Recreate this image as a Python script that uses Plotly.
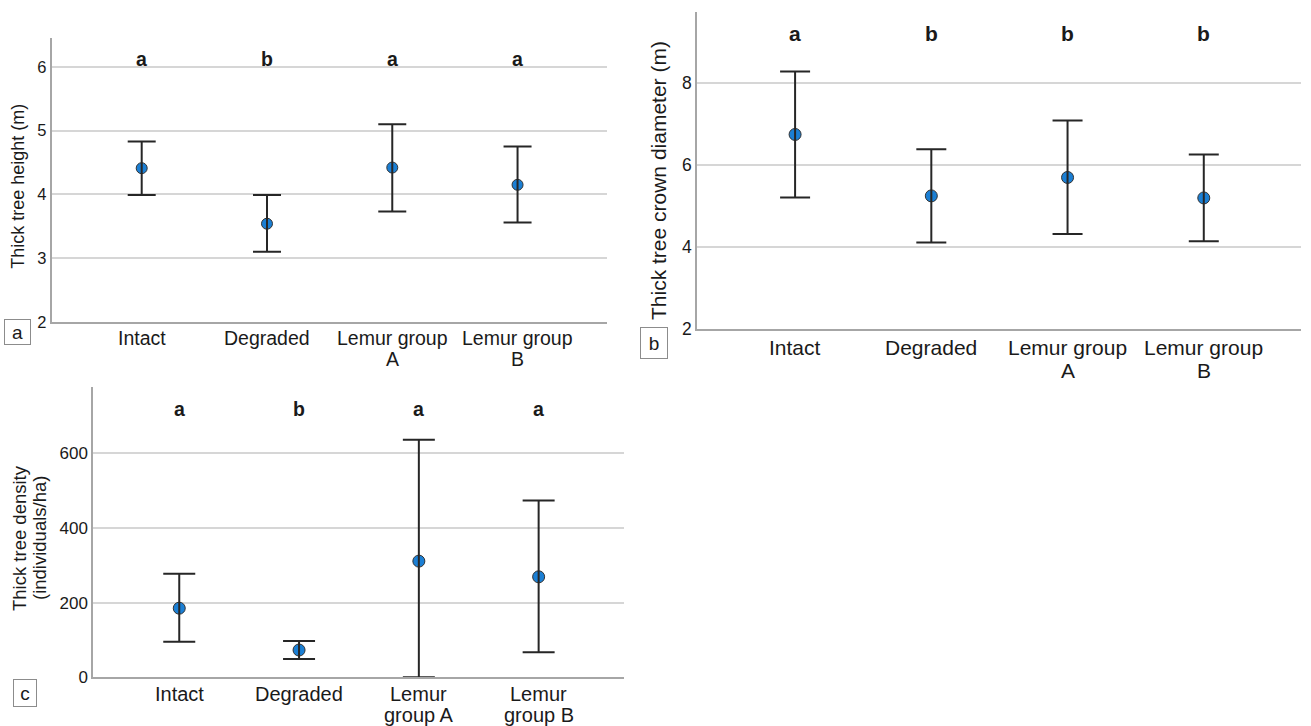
import plotly.graph_objects as go

categories_ab = ["Intact", "Degraded", "Lemur group<br>A", "Lemur group<br>B"]
categories_c = ["Intact", "Degraded", "Lemur<br>group A", "Lemur<br>group B"]

height_mean = [4.41, 3.54, 4.42, 4.15]
height_low = [3.99, 3.10, 3.73, 3.56]
height_high = [4.83, 3.99, 5.10, 4.75]
height_letters = ["a", "b", "a", "a"]

crown_mean = [6.75, 5.25, 5.70, 5.20]
crown_low = [5.21, 4.11, 4.32, 4.14]
crown_high = [8.29, 6.39, 7.09, 6.26]
crown_letters = ["a", "b", "b", "b"]

density_mean = [185, 73, 311, 269]
density_low = [95, 49, 0, 67]
density_high = [277, 97, 636, 473]
density_letters = ["a", "b", "a", "a"]

W, H = 1311, 726
FONT = "Liberation Sans, Arial, sans-serif"
TXT = "#1a1a1a"
MARK = "#1b7fd4"
BAR = "#262626"


def py(p):
    return 1 - p / H


panels = [
    dict(mean=height_mean, low=height_low, high=height_high, letters=height_letters,
         cats=categories_ab, xl=51.5, xr=606.5, yb=322, yt=38,
         yr=[2, 6.45], dt=1, ly=6.12, cap=14, msize=11, fs=19.5, tfs=16.5, lfs=19.5,
         catoff=16, catgap=20.5,
         titles=["Thick tree height (m)"], tx=[18], ty=186.7, tsize=18,
         lab="a", lx=17, lyc=331.5, lw=19, lh=18),
    dict(mean=crown_mean, low=crown_low, high=crown_high, letters=crown_letters,
         cats=categories_ab, xl=697, xr=1300.5, yb=329, yt=12,
         yr=[2, 9.74], dt=2, ly=9.22, cap=15, msize=12, fs=21, tfs=17.5, lfs=21,
         catoff=19, catgap=22.5,
         titles=["Thick tree crown diameter (m)"], tx=658, ty=181, tsize=21,
         lab="b", lx=653.5, lyc=343.5, lw=20, lh=24),
    dict(mean=density_mean, low=density_low, high=density_high, letters=density_letters,
         cats=categories_c, xl=93, xr=623.7, yb=677.3, yt=386.7,
         yr=[0, 778], dt=200, ly=717, cap=16, msize=12, fs=20, tfs=17, lfs=19.5,
         catoff=17, catgap=21,
         titles=["Thick tree density", "(individuals/ha)"], tx=[19, 39], ty=538, tsize=18.5,
         lab="c", lx=25, lyc=693, lw=16, lh=20),
]

fig = go.Figure()
annotations = []
for i, p in enumerate(panels):
    n = "" if i == 0 else str(i + 1)
    xa, ya = "x" + n, "y" + n
    xs = list(range(len(p["mean"])))
    plus = [h - m for h, m in zip(p["high"], p["mean"])]
    minus = [m - l for m, l in zip(p["mean"], p["low"])]
    fig.add_trace(go.Scatter(
        x=xs, y=p["mean"], mode="markers", xaxis=xa, yaxis=ya, showlegend=False,
        marker=dict(size=p["msize"], color=MARK, line=dict(color="#333333", width=1)),
        cliponaxis=False, hoverinfo="skip"))
    fig.add_trace(go.Scatter(
        x=xs, y=p["mean"], mode="markers", xaxis=xa, yaxis=ya, showlegend=False,
        marker=dict(size=1, opacity=0),
        error_y=dict(type="data", symmetric=False, array=plus, arrayminus=minus,
                     color=BAR, thickness=2, width=p["cap"]),
        cliponaxis=False, hoverinfo="skip"))
    fig.update_layout(**{
        "xaxis" + n: dict(domain=[p["xl"] / W, p["xr"] / W], anchor=ya, range=[-0.72, 3.71],
                          automargin=False, tickvals=xs, showticklabels=False,
                          showgrid=False, zeroline=False,
                          showline=True, linecolor="#a6a6a6", linewidth=1.5, ticks="",
                          fixedrange=True),
        "yaxis" + n: dict(domain=[py(p["yb"]), py(p["yt"])], anchor=xa, range=p["yr"],
                          dtick=p["dt"], tick0=0, automargin=False,
                          showgrid=True, gridcolor="#d6d6d6", gridwidth=1.5, zeroline=False,
                          showline=True, linecolor="#a6a6a6", linewidth=1.5, ticks="",
                          tickfont=dict(family=FONT, size=p["tfs"], color=TXT), fixedrange=True),
    })
    # category labels (one annotation per line, tight line spacing)
    for x, cat in zip(xs, p["cats"]):
        for k, line in enumerate(cat.split("<br>")):
            annotations.append(dict(x=x, xref=xa, y=py(p["yb"] + p["catoff"] + k * p["catgap"]),
                                    yref="paper", text=line, showarrow=False,
                                    xanchor="center", yanchor="middle",
                                    font=dict(family=FONT, size=p["fs"], color=TXT)))
    # significance letters
    for x, t in zip(xs, p["letters"]):
        annotations.append(dict(x=x, y=p["ly"], xref=xa, yref=ya, text="<b>%s</b>" % t,
                                showarrow=False, font=dict(family=FONT, size=p["lfs"], color=TXT)))
    # y-axis title
    txs = p["tx"] if isinstance(p["tx"], list) else [p["tx"]]
    for tline, tx in zip(p["titles"], txs):
        annotations.append(dict(x=tx / W, y=py(p["ty"]), xref="paper", yref="paper", text=tline,
                                textangle=-90, showarrow=False, xanchor="center", yanchor="middle",
                                font=dict(family=FONT, size=p["tsize"], color=TXT)))
    # panel label box
    annotations.append(dict(x=p["lx"] / W, y=py(p["lyc"]), xref="paper", yref="paper",
                            text=p["lab"], showarrow=False, xanchor="center", yanchor="middle",
                            width=p["lw"], height=p["lh"], borderpad=3,
                            bordercolor="#8c8c8c", borderwidth=1,
                            font=dict(family=FONT, size=19, color=TXT)))

fig.update_layout(width=W, height=H, margin=dict(l=0, r=0, t=0, b=0, autoexpand=False),
                  paper_bgcolor="white", plot_bgcolor="white", annotations=annotations)
fig.write_html("out.html", config={"displayModeBar": False},
               post_script="document.body.style.margin='0';document.body.style.overflow='hidden';")
